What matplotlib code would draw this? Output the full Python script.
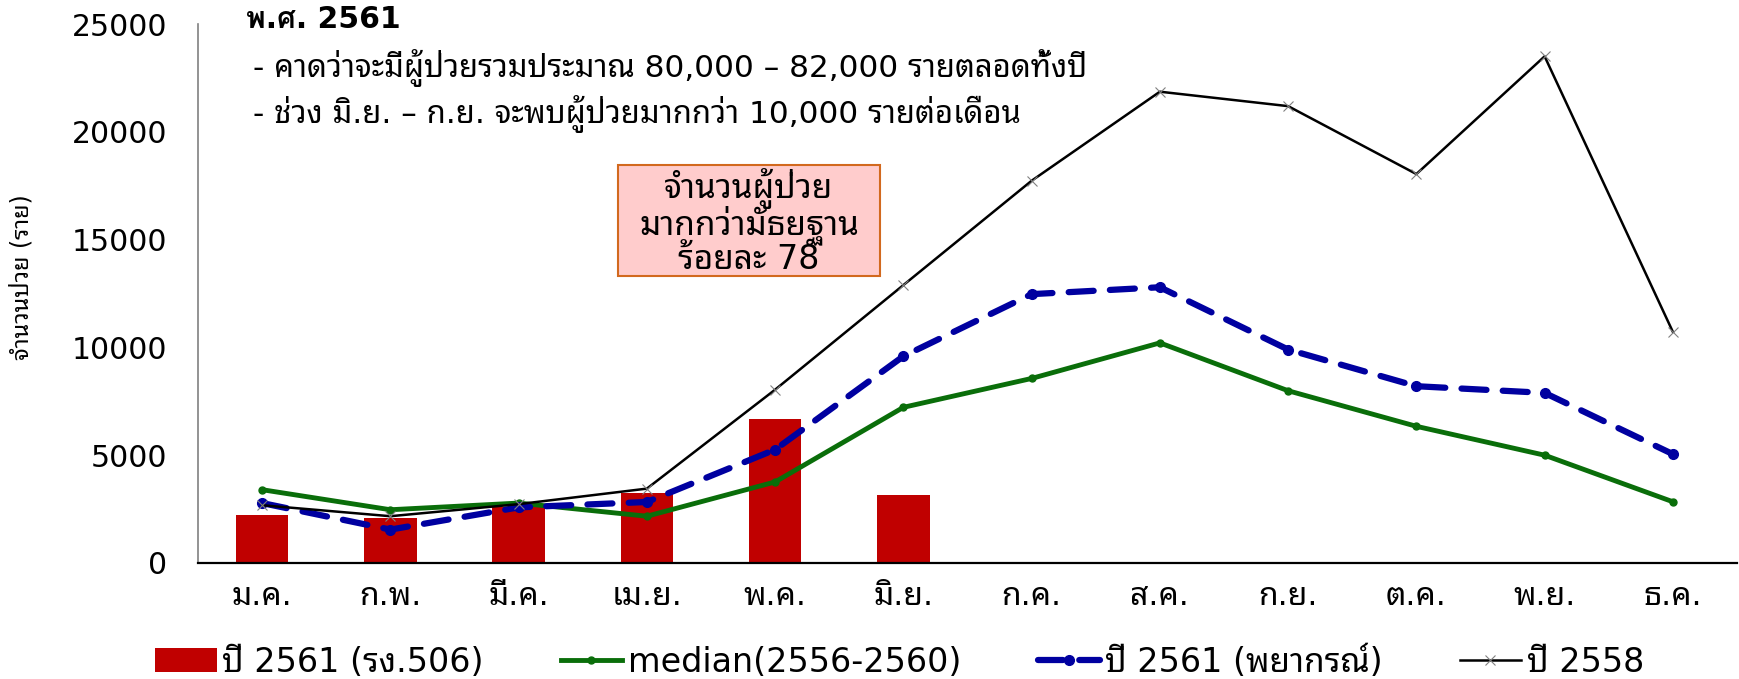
import matplotlib
matplotlib.use('Agg')
import matplotlib.pyplot as plt
import numpy as np
from matplotlib.patches import Rectangle

plt.rcParams['font.family'] = ['DejaVu Sans', 'Noto Sans Thai Looped', 'Loma']

months = ['ม.ค.', 'ก.พ.', 'มี.ค.', 'เม.ย.', 'พ.ค.', 'มิ.ย.',
          'ก.ค.', 'ส.ค.', 'ก.ย.', 'ต.ค.', 'พ.ย.', 'ธ.ค.']
cases_2561 = [2210, 2070, 2620, 3230, 6700, 3140]
median_56_60 = [3400, 2470, 2780, 2170, 3760, 7220, 8560, 10210, 7990, 6340, 5000, 2840]
forecast_2561 = [2780, 1550, 2580, 2830, 5260, 9590, 12470, 12790, 9900, 8200, 7890, 5050]
year_2558 = [2680, 2170, 2730, 3450, 8040, 12890, 17730, 21860, 21190, 18040, 23500, 10720]

lbl_bar = 'ปี 2561 (รง.506)'
lbl_med = 'median(2556-2560)'
lbl_fc = 'ปี 2561 (พยากรณ์)'
lbl_58 = 'ปี 2558'

W, H = 1740, 679
fig = plt.figure(figsize=(W / 100, H / 100), dpi=100)
ax = fig.add_axes([198 / W, 1 - 563 / H, (1737 - 198) / W, (563 - 24) / H])

x = np.arange(len(months))
b = ax.bar(x[:len(cases_2561)], cases_2561, width=0.41, color='#C00000', label=lbl_bar, zorder=2)
l1, = ax.plot(x, median_56_60, color='#0A6E0A', lw=3.5, marker='o', ms=5, label=lbl_med, zorder=3)
l2, = ax.plot(x, forecast_2561, color='#0000A0', lw=4.5, dashes=(4, 2.6), marker='o', ms=7,
              dash_capstyle='round', label=lbl_fc, zorder=4)
l3, = ax.plot(x, year_2558, color='black', lw=1.8, marker='x', ms=7, mec='#808080', mew=0.8,
              label=lbl_58, zorder=5)

ax.set_xlim(-0.5, 11.5)
ax.set_ylim(0, 25000)
ax.set_yticks(np.arange(0, 25001, 5000))
ax.set_xticks(x)
ax.set_xticklabels(months)
ax.tick_params(axis='y', length=0, pad=22, labelsize=21.5)
ax.tick_params(axis='x', length=0, pad=13, labelsize=23)
for s in ['top', 'right']:
    ax.spines[s].set_visible(False)
ax.spines['left'].set_color('#808080')
ax.spines['left'].set_linewidth(1.2)
ax.spines['bottom'].set_color('black')
ax.spines['bottom'].set_linewidth(1.6)

fig.text(22 / W, 1 - 277 / H, 'จำนวนป่วย (ราย)', rotation=90, va='center', ha='center', fontsize=17)

# หัวข้อตัวหนา ใช้ Loma เพราะมีตัวหนา
fig.text(246 / W, 1 - 20 / H, 'พ.ศ. 2561', fontsize=21.5, fontweight='bold', va='center', ha='left',
         family=['DejaVu Sans', 'Loma'])
fig.text(253 / W, 1 - 68 / H, '- คาดว่าจะมีผู้ป่วยรวมประมาณ 80,000 – 82,000 รายตลอดทั้งปี',
         fontsize=22.4, va='center', ha='left')
fig.text(253 / W, 1 - 114 / H, '- ช่วง มิ.ย. – ก.ย. จะพบผู้ป่วยมากกว่า 10,000 รายต่อเดือน',
         fontsize=22.4, va='center', ha='left')

fig.patches.append(Rectangle((618 / W, 1 - 276 / H), (880 - 618) / W, (276 - 165) / H,
                             transform=fig.transFigure, facecolor='#FFCCCC',
                             edgecolor='#D2691E', lw=1.5))
fig.text(749 / W, 1 - 222 / H, 'จำนวนผู้ป่วย\nมากกว่ามัธยฐาน\nร้อยละ 78', fontsize=24,
         ha='center', va='center', linespacing=0.88)

fig.legend([b, l1, l2, l3], [lbl_bar, lbl_med, lbl_fc, lbl_58],
           loc='center', bbox_to_anchor=(0.517, 1 - 662 / H), ncol=4, frameon=False,
           fontsize=24, handlelength=1.85, handletextpad=0.17, columnspacing=2.3,
           borderaxespad=0)

fig.savefig('out.png')
